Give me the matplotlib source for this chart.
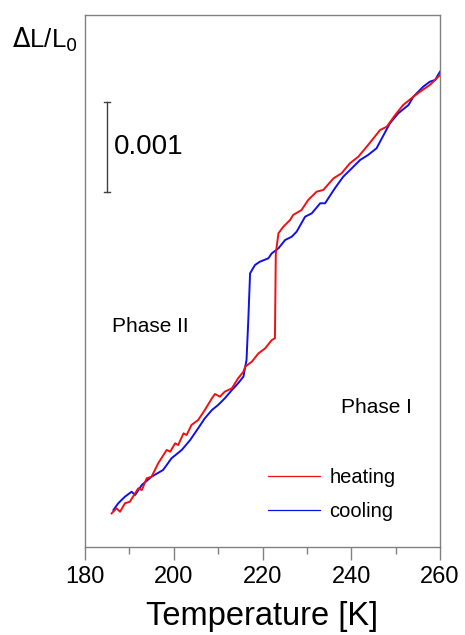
import matplotlib
matplotlib.use("Agg")
import matplotlib.pyplot as plt

plt.rcParams['font.family'] = ['Liberation Sans', 'DejaVu Sans']

# Heating curve: temperature [K] and relative length change (x 1e-3)
heat_T = [186.0, 187.1, 187.9, 189.0, 190.1, 191.3, 192.0, 192.8, 193.9, 195.0,
          196.5, 198.4, 199.2, 200.3, 201.0, 202.2, 202.9, 204.0, 205.5, 207.0,
          208.6, 209.3, 210.4, 211.5, 213.1, 214.5, 215.7, 216.1, 217.6, 219.1,
          220.6, 222.1, 222.8, 223.0, 223.6, 224.7, 226.2, 226.9, 228.8, 230.3,
          232.2, 233.7, 236.0, 237.8, 239.7, 241.6, 243.8, 246.5, 248.0, 249.9,
          251.7, 254.0, 255.5, 257.7, 260.0]
heat_dL = [0.374, 0.430, 0.392, 0.486, 0.503, 0.597, 0.652, 0.633, 0.763, 0.781,
           0.930, 1.078, 1.059, 1.152, 1.133, 1.263, 1.244, 1.356, 1.411, 1.522,
           1.652, 1.700, 1.670, 1.726, 1.763, 1.874, 1.948, 2.004, 2.059, 2.152,
           2.207, 2.300, 2.319, 3.263, 3.486, 3.559, 3.633, 3.689, 3.744, 3.856,
           3.948, 3.967, 4.096, 4.152, 4.263, 4.337, 4.467, 4.633, 4.670, 4.800,
           4.911, 5.003, 5.059, 5.133, 5.244]

# Cooling curve
cool_T = [186.4, 187.5, 189.0, 190.5, 191.3, 192.8, 195.0, 197.6, 199.5, 201.8,
          203.7, 205.5, 207.0, 208.6, 210.0, 211.5, 213.1, 214.5, 215.7, 216.4,
          216.8, 217.2, 218.3, 219.4, 221.3, 222.1, 223.6, 225.1, 226.6, 227.7,
          229.6, 231.1, 233.0, 234.1, 236.3, 238.2, 240.1, 242.0, 243.8, 245.7,
          246.9, 248.7, 250.6, 252.9, 254.0, 256.2, 257.7, 258.9, 260.0]
cool_dL = [0.411, 0.486, 0.559, 0.614, 0.578, 0.689, 0.781, 0.856, 0.986, 1.078,
           1.189, 1.319, 1.430, 1.522, 1.578, 1.652, 1.744, 1.819, 1.893, 2.078,
           2.522, 3.041, 3.133, 3.170, 3.207, 3.263, 3.319, 3.411, 3.448, 3.504,
           3.670, 3.707, 3.819, 3.819, 3.985, 4.115, 4.207, 4.300, 4.356, 4.430,
           4.541, 4.707, 4.819, 4.911, 5.003, 5.114, 5.170, 5.189, 5.281]

x_ticks = [180, 200, 220, 240, 260]
x_minor = [190, 210, 230, 250]
scale_bar = 1.0  # 0.001 in units of 1e-3
scale_label = "0.001"

heat_y = [v * 1e-3 for v in heat_dL]
cool_y = [v * 1e-3 for v in cool_dL]

fig = plt.figure(figsize=(4.65, 6.35), dpi=100)
ax = fig.add_axes([85/465, 1 - 547/635, 355/465, 532/635])

ax.plot(heat_T, heat_y, color='#f01010', lw=1.4, label='heating', zorder=3)
ax.plot(cool_T, cool_y, color='#1010e8', lw=1.4, label='cooling', zorder=2)

ax.set_xlim(180, 260)
ax.set_ylim(0, 5.911e-3)
ax.set_xticks(x_ticks)
ax.set_xticks(x_minor, minor=True)
ax.set_yticks([])
for s in ax.spines.values():
    s.set_color('#808080')
    s.set_linewidth(1.0)
ax.tick_params(axis='x', which='major', direction='out', length=9, width=1,
               color='#808080', labelsize=17, pad=5)
ax.tick_params(axis='x', which='minor', direction='out', length=5, width=1,
               color='#808080')
ax.set_xlabel('Temperature [K]', fontsize=23.5, labelpad=9)

# scale bar
sb_x = 185.0
sb_y0 = 3.944e-3
ax.plot([sb_x, sb_x], [sb_y0, sb_y0 + scale_bar * 1e-3], color='#404040', lw=1.0)
for yy in (sb_y0, sb_y0 + scale_bar * 1e-3):
    ax.plot([sb_x - 0.7, sb_x + 0.7], [yy, yy], color='#404040', lw=1.0)
ax.text(sb_x + 1.5, sb_y0 + 0.5 * scale_bar * 1e-3, scale_label, fontsize=20,
        va='center', ha='left')

fig.text(12/465, 1 - 40/635, r'$\Delta$L/L$_0$', fontsize=18.5, va='center', ha='left')

ax.text(186.0, 2.445e-3, 'Phase II', fontsize=15, va='center', ha='left')
ax.text(237.6, 1.545e-3, 'Phase I', fontsize=15, va='center', ha='left')

leg = ax.legend(loc='center left', bbox_to_anchor=((268 - 85) / 355, (547 - 494.5) / 532),
                frameon=False, fontsize=14.5, handlelength=2.6, handletextpad=0.45,
                labelspacing=0.75, borderpad=0, borderaxespad=0)
for line in leg.get_lines():
    line.set_linewidth(0.9)

fig.savefig('out.png', dpi=100)
